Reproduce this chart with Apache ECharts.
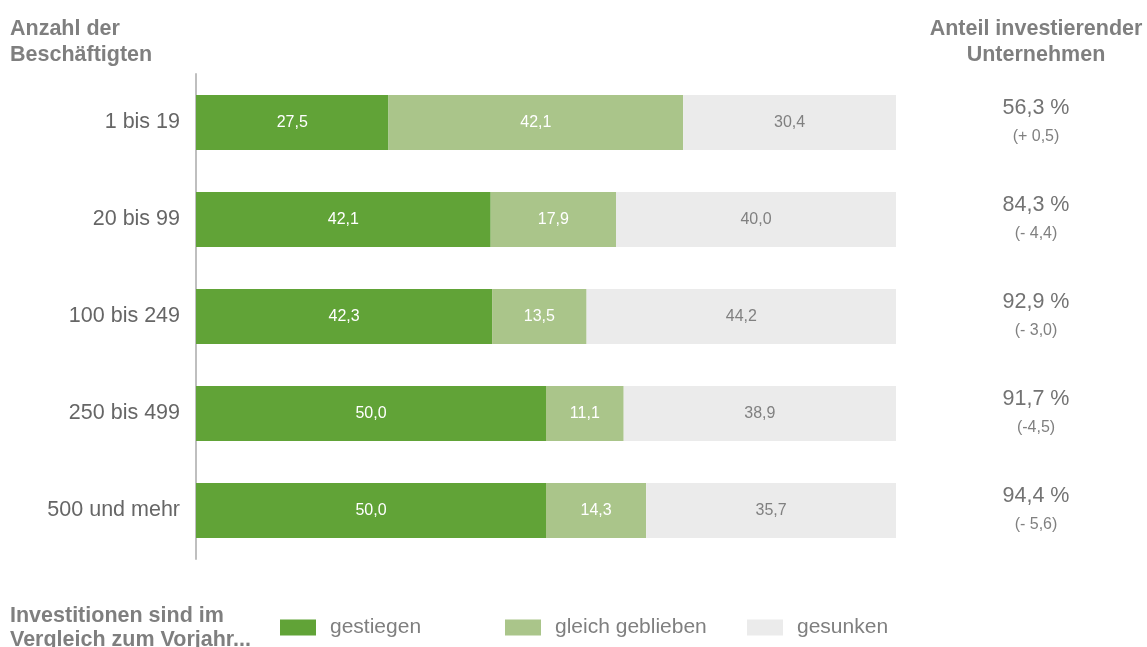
<!DOCTYPE html>
<html>
<head>
<meta charset="utf-8">
<script src="https://cdn.jsdelivr.net/npm/echarts@6/dist/echarts.min.js"></script>
<style>
  html, body { margin: 0; padding: 0; background: #ffffff; }
  #chart { width: 1147px; height: 647px; }
</style>
</head>
<body>
<div id="chart"></div>
<script>
// Company size classes (number of employees)
const categories = ['1 bis 19', '20 bis 99', '100 bis 249', '250 bis 499', '500 und mehr'];

// Share of companies whose investments rose / stayed equal / fell (in %)
const gestiegen = [27.5, 42.1, 42.3, 50.0, 50.0];
const gleichGeblieben = [42.1, 17.9, 13.5, 11.1, 14.3];
const gesunken = [30.4, 40.0, 44.2, 38.9, 35.7];

// Share of investing companies and change to previous year
const anteilInvestierend = ['56,3 %', '84,3 %', '92,9 %', '91,7 %', '94,4 %'];
const veraenderung = ['(+ 0,5)', '(- 4,4)', '(- 3,0)', '(-4,5)', '(- 5,6)'];

const seriesNames = ['gestiegen', 'gleich geblieben', 'gesunken'];
const colors = ['#61a337', '#aac58a', '#ebebeb'];
const FONT = 'Liberation Sans, Arial, sans-serif';
const GREY = '#7f7f7f';

const fmt = v => v.toFixed(1).replace('.', ',');

function barSeries(name, data, color, labelColor) {
  return {
    name: name,
    type: 'bar',
    stack: 'total',
    barWidth: 55,
    data: data,
    itemStyle: { color: color },
    label: {
      show: true,
      position: 'inside',
      color: labelColor,
      fontFamily: FONT,
      fontSize: 16,
      formatter: p => fmt(p.value)
    },
    emphasis: { disabled: true }
  };
}

function legendAt(left, name) {
  return {
    left: left,
    top: 612,
    itemWidth: 36,
    itemHeight: 16,
    icon: 'rect',
    selectedMode: false,
    data: [name],
    textStyle: { color: GREY, fontFamily: FONT, fontSize: 21, padding: [0, 0, 0, 9] }
  };
}

const chart = echarts.init(document.getElementById('chart'), null, { renderer: 'canvas' });

chart.setOption({
  animation: false,
  backgroundColor: '#ffffff',
  grid: { left: 196, top: 74, width: 700, height: 485 },
  xAxis: { type: 'value', min: 0, max: 100, show: false },
  yAxis: [
    {
      type: 'category',
      data: categories,
      inverse: true,
      axisLine: { show: true, lineStyle: { color: '#bfbfbf', width: 2 } },
      axisTick: { show: false },
      axisLabel: { color: '#666666', fontFamily: FONT, fontSize: 21.5, margin: 16 }
    },
    {
      type: 'category',
      data: categories,
      inverse: true,
      position: 'right',
      axisLine: { show: false },
      axisTick: { show: false },
      axisLabel: {
        margin: 140,
        align: 'center',
        formatter: (v, i) => '{a|' + anteilInvestierend[i] + '}\n{b|' + veraenderung[i] + '}',
        rich: {
          a: { color: '#737373', fontFamily: FONT, fontSize: 21.5, lineHeight: 28, align: 'center' },
          b: { color: '#808080', fontFamily: FONT, fontSize: 16, lineHeight: 28, align: 'center' }
        }
      }
    }
  ],
  legend: [
    legendAt(275, seriesNames[0]),
    legendAt(500, seriesNames[1]),
    legendAt(742, seriesNames[2])
  ],
  series: [
    barSeries(seriesNames[0], gestiegen, colors[0], '#ffffff'),
    barSeries(seriesNames[1], gleichGeblieben, colors[1], '#ffffff'),
    barSeries(seriesNames[2], gesunken, colors[2], '#808080')
  ],
  graphic: [
    {
      type: 'text', left: 10, top: 16,
      style: { text: 'Anzahl der\nBeschäftigten', fill: GREY, font: 'bold 21.5px ' + FONT, lineHeight: 26 }
    },
    {
      type: 'text', x: 1036, y: 16,
      style: { text: 'Anteil investierender\nUnternehmen', fill: GREY, font: 'bold 21.5px ' + FONT, lineHeight: 26, align: 'center' }
    },
    {
      type: 'text', left: 10, top: 604,
      style: { text: 'Investitionen sind im\nVergleich zum Vorjahr...', fill: GREY, font: 'bold 21.5px ' + FONT, lineHeight: 24 }
    }
  ]
});
</script>
</body>
</html>
